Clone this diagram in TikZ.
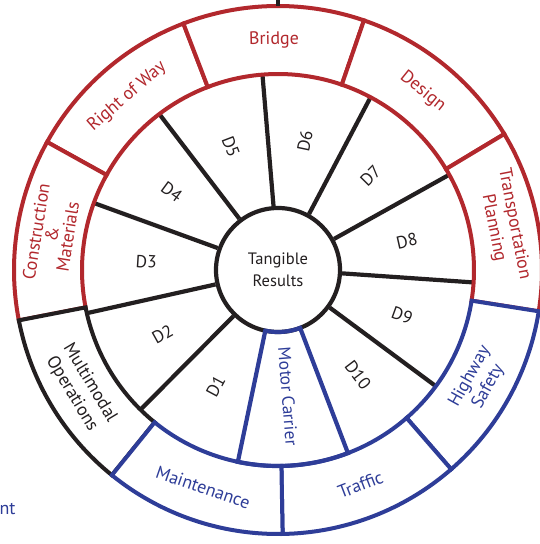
\documentclass[tikz,border=0pt]{standalone}
\usepackage{fontspec}
\setmainfont{PT Sans}

\definecolor{wheelred}{RGB}{178,40,45}
\definecolor{wheelblue}{RGB}{46,61,152}
\definecolor{wheelblack}{RGB}{35,31,32}

\begin{document}
\begin{tikzpicture}[
     x = 1pt, y = 1pt,
     sector/.style = {line width = 4pt, fill = white},
     spoke/.style = {line width = 4.2pt, draw = wheelblack},
     ringlabel/.style = {font = \fontsize{18}{21}\selectfont, align = center},
     dlabel/.style = {font = \fontsize{17.5}{21}\selectfont, text = wheelblack}
    ]

    \useasboundingbox (-278,-274) rectangle (262,270);

    \node [circle, draw = wheelblack, line width = 4.2pt, fill = white,
           minimum size = 124pt, inner sep = 0pt, align = center,
           dlabel, font = \fontsize{16.5}{22}\selectfont] (hub) at (0,0) {Tangible\\Results};

    % spokes between the D sectors
    \foreach \a in {94.55, 61.82, 29.09, -3.64, -36.36, -134.55, -167.27, 160, 127.27}
     \draw [spoke] (hub.\a) -- (\a:196);

    % outer ring: red first, then black, blue on top
    \foreach \a/\c in {111/wheelred, 71/wheelred, 31/wheelred, -9/wheelred, 151/wheelred,
                       191/wheelblack, -49/wheelblue, -89/wheelblue, -129/wheelblue}
     {
      \pgfmathsetmacro{\b}{\a + 40}
      \draw [sector, draw = \c] (\a:196) arc [start angle = \a, end angle = \b, radius = 196]
        -- (\b:264) arc [start angle = \b, end angle = \a, radius = 264] -- cycle;
     }

    \draw [line width = 4.2pt, wheelblue] (-101.82:62)
      arc [start angle = -101.82, end angle = -69.09, radius = 62]
      -- (-69.09:196) arc [start angle = -69.09, end angle = -101.82, radius = 196] -- cycle;

    \draw [spoke] (90:264) -- (90:280);

    \foreach \a/\r/\t in {78.18/78.18/D6, 45.45/45.45/D7, 12.73/12.73/D8, -20/-20/D9,
                          -52.73/-52.73/D10, -118.18/61.82/D1, 209.09/29.09/D2,
                          176.36/-3.64/D3, 143.64/-36.36/D4, 110.91/-69.09/D5}
     \node [dlabel, rotate = \r] (\t) at (\a:132) {\t};
    \node [dlabel, text = wheelblue, rotate = -85.45] (motor) at (-85.45:127) {Motor Carrier};

    \foreach \a/\r/\n/\t in {91/1/bridge/Bridge, 51/-39/design/Design,
                             11/-79/planning/{Transportation\\Planning},
                             131/41/row/{Right of Way}}
     \node [ringlabel, text = wheelred, rotate = \r] (\n) at (\a:230) {\t};
    \node [ringlabel, text = wheelred, rotate = 81, font = \fontsize{18}{16}\selectfont]
      (construction) at (171:229) {Construction\\\&\\Materials};
    \node [ringlabel, text = wheelblack, rotate = -59] (multimodal) at (211:230) {Multimodal\\Operations};
    \foreach \a/\r/\n/\t in {-29/61/safety/{Highway\\Safety}, -69/21/traffic/Traffic,
                             -109/-19/maintenance/Maintenance}
     \node [ringlabel, text = wheelblue, rotate = \r] (\n) at (\a:230) {\t};

    \node [ringlabel, text = wheelblue, anchor = base east] (ent) at (-259,-244) {ent};

\end{tikzpicture}
\end{document}
